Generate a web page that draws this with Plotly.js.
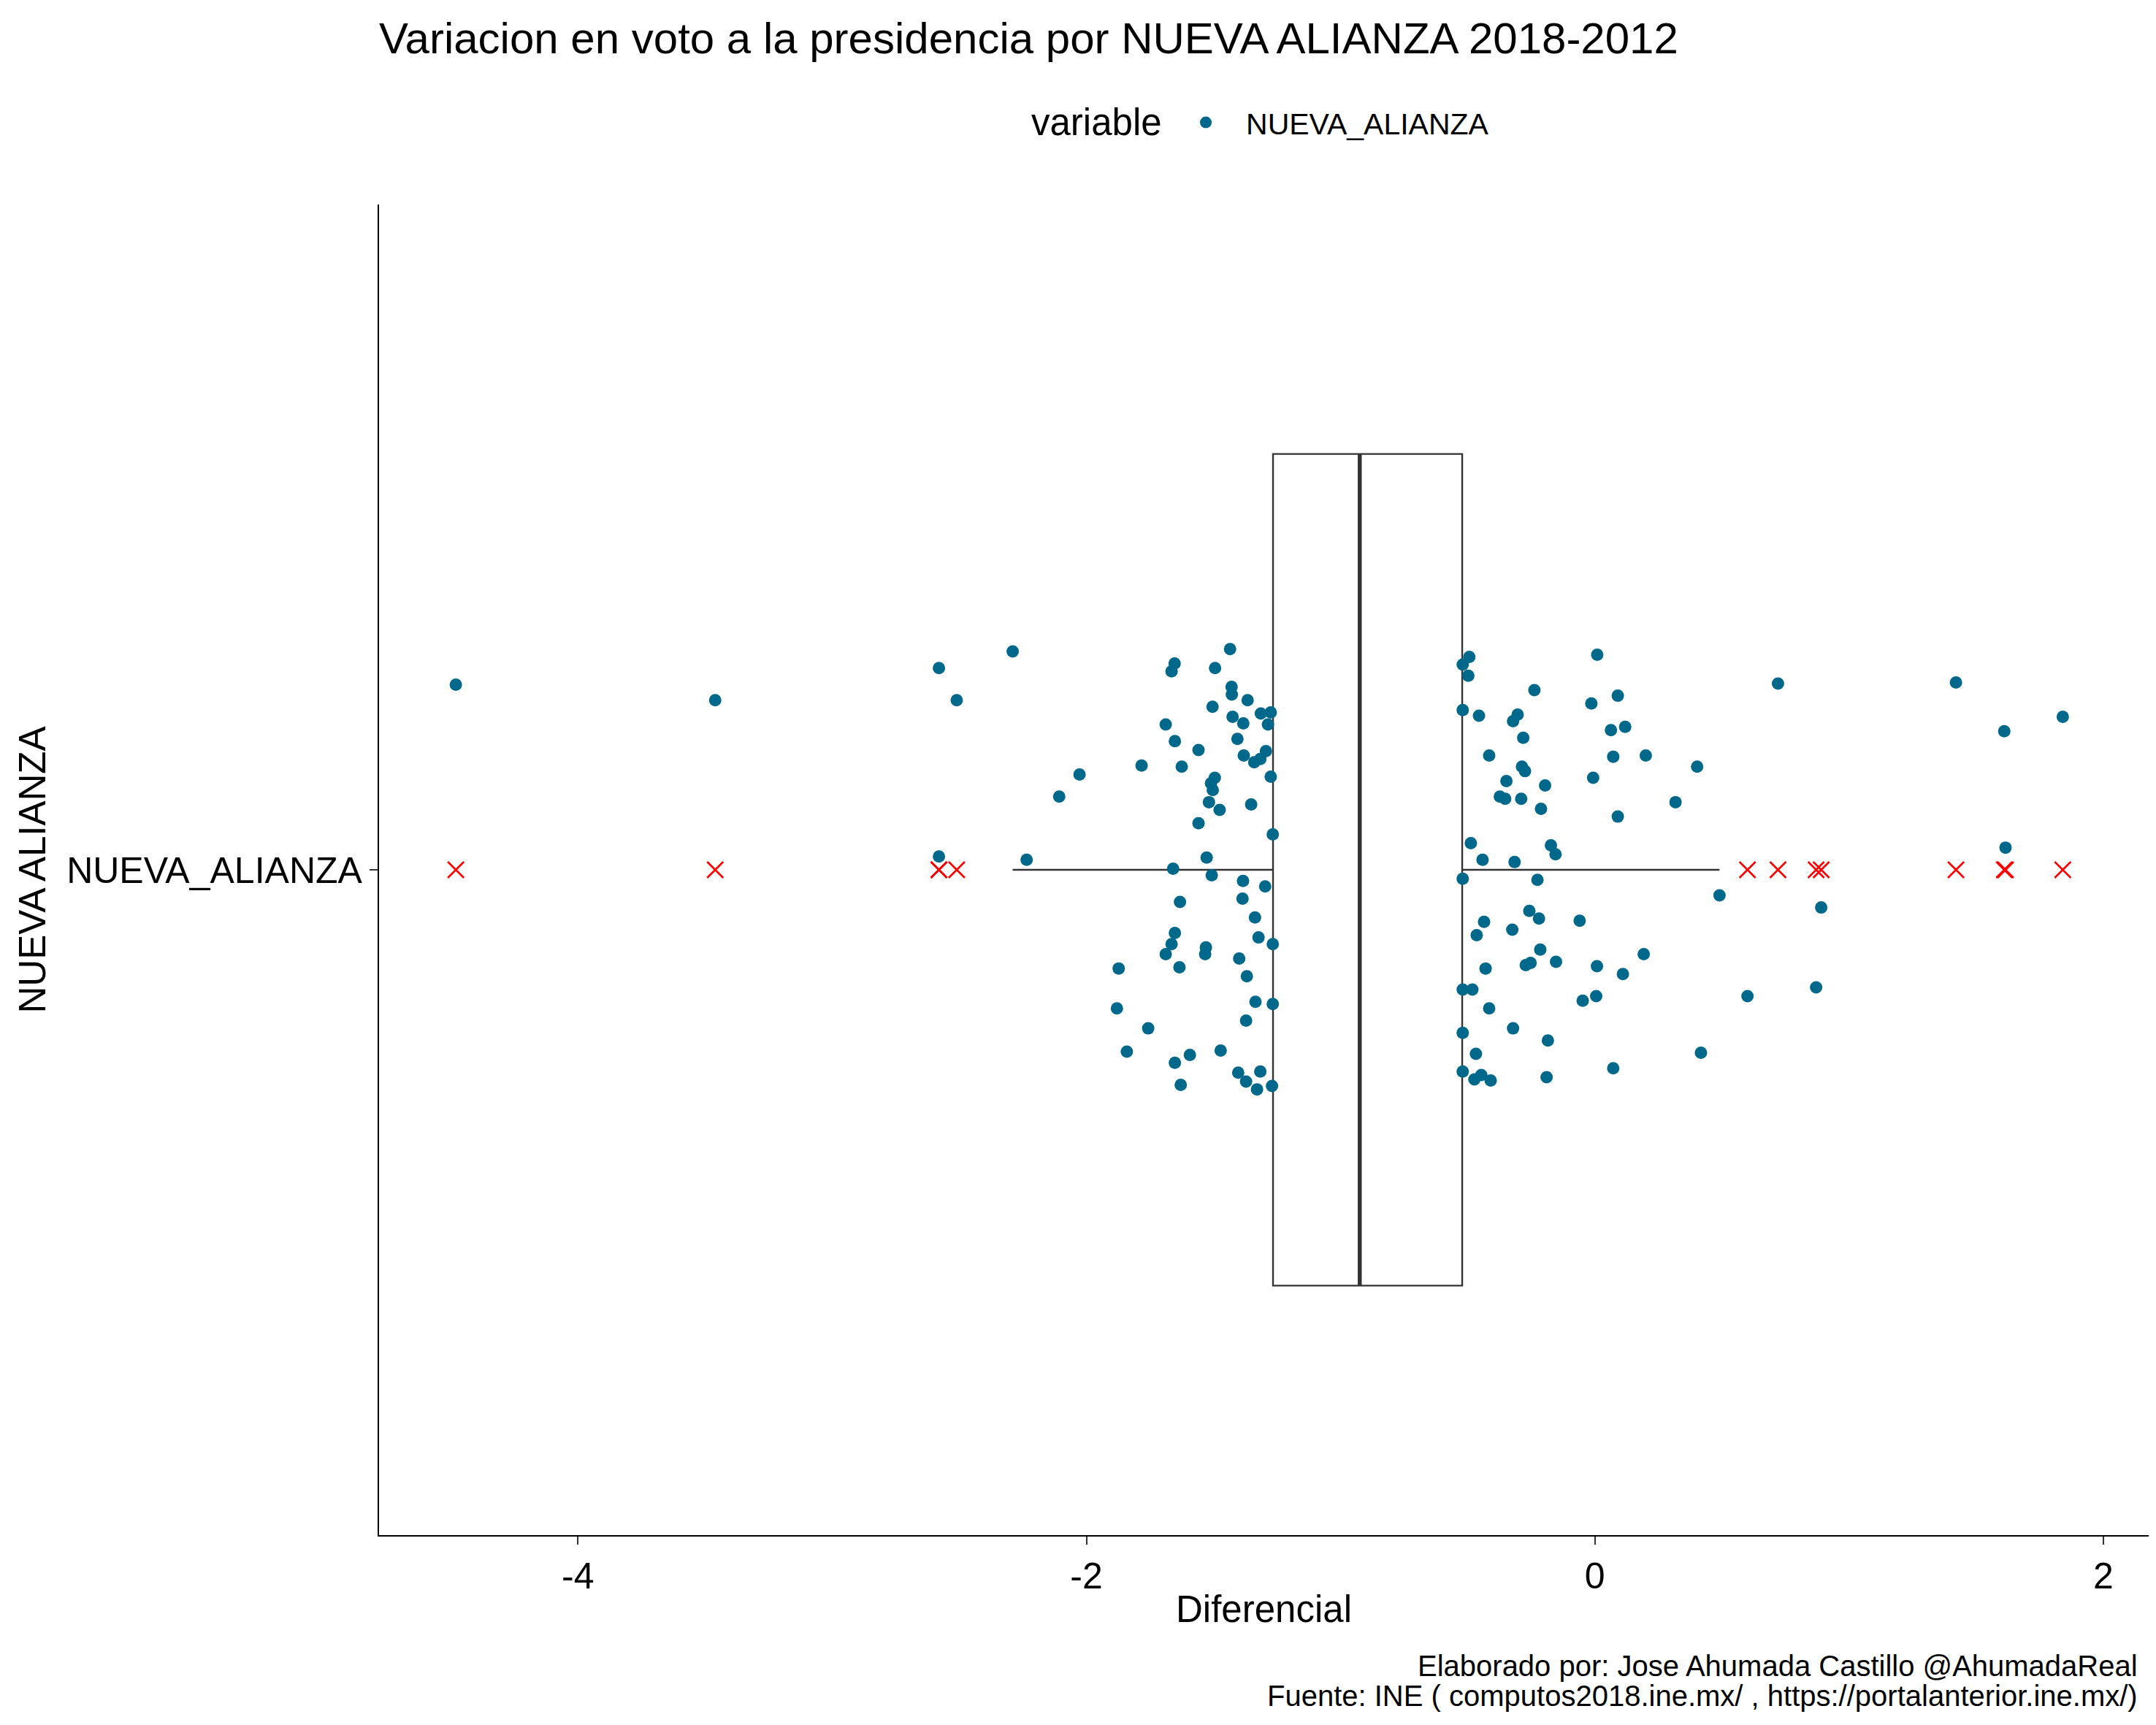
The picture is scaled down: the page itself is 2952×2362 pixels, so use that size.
<!DOCTYPE html>
<html>
<head>
<meta charset="utf-8">
<script src="https://cdn.plot.ly/plotly-3.0.1.min.js"></script>
<style>
  body { margin: 0; background: #ffffff; }
  #grafica { width: 2952px; height: 2362px; }
</style>
</head>
<body>
<div id="grafica"></div>
<script>
// Categoria del eje y (una sola)
const categorias = ["NUEVA_ALIANZA"];

// Diferencial por punto y su desplazamiento vertical (jitter)
const diferencial = [
    -4.48, -3.46, -2.58, -2.51, -2.29, -2.58, -2.235,
    -1.435, -1.653, -1.665, -1.494, -1.429, -1.428, -1.366, -1.504, -1.425, -1.383,
    -1.314, -1.286, -1.275, -1.688, -1.652, -1.559, -1.406, -1.783, -1.625, -1.381,
    -1.294, -1.316, -1.34, -1.275, -2.027, -2.107, -1.495, -1.51, -1.503, -1.518,
    -1.476, -1.352, -1.559, -1.267, -1.527, -1.659, -1.507, -1.384, -1.297, -1.386,
    -1.632, -1.337, -1.323, -1.267, -1.652, -1.665, -1.688, -1.53, -1.533, -1.399,
    -1.634, -1.873, -1.369, -1.335, -1.267, -1.88, -1.372, -1.757, -1.841, -1.593,
    -1.472, -1.652, -1.629, -1.403, -1.372, -1.316, -1.329, -1.27,
    -0.494, -0.52, -0.498, 0.009, -0.238, -0.014, 0.09, -0.52, -0.456, -0.304,
    -0.322, -0.282, 0.063, 0.119, -0.416, -0.287, -0.275, 0.072, 0.20, 0.402,
    -0.348, -0.196, -0.007, -0.374, -0.353, -0.29, -0.212, 0.317, 0.09, -0.488,
    -0.442, -0.316, -0.173, -0.155, -0.52, -0.226, 0.49, -0.258, -0.22, -0.436,
    -0.465, -0.325, -0.06, -0.215, -0.153, -0.272, -0.253, 0.008, 0.11, 0.192,
    -0.43, -0.52, -0.482, -0.416, -0.048, 0.005, -0.52, -0.322, -0.185, -0.468,
    0.417, 0.072, -0.52, -0.447, -0.474, -0.41, -0.19,
    0.60, 0.72, 0.87, 0.89, 1.42, 1.61, 1.615, 1.84
];
const jitter = [
    0.167, 0.153, 0.182, 0.153, 0.197, 0.012, 0.009,
    0.199, 0.186, 0.179, 0.182, 0.165, 0.158, 0.153, 0.147, 0.138, 0.132,
    0.141, 0.131, 0.142, 0.131, 0.116, 0.108, 0.118, 0.094, 0.093, 0.103,
    0.107, 0.100, 0.097, 0.084, 0.086, 0.066, 0.083, 0.078, 0.072, 0.061,
    0.054, 0.059, 0.042, 0.032, 0.011, 0.001, -0.005, -0.010, -0.015, -0.026,
    -0.029, -0.043, -0.061, -0.067, -0.057, -0.067, -0.076, -0.070, -0.076, -0.080,
    -0.088, -0.089, -0.096, -0.119, -0.121, -0.125, -0.136, -0.143, -0.164, -0.167,
    -0.163, -0.174, -0.194, -0.183, -0.191, -0.182, -0.198, -0.195,
    0.192, 0.185, 0.175, 0.194, 0.162, 0.150, 0.157, 0.144, 0.139, 0.140,
    0.134, 0.119, 0.126, 0.129, 0.103, 0.093, 0.089, 0.102, 0.103, 0.093,
    0.080, 0.076, 0.083, 0.066, 0.064, 0.064, 0.055, 0.061, 0.048, 0.024,
    0.009, 0.007, 0.022, 0.014, -0.008, -0.009, -0.023, -0.037, -0.044, -0.047,
    -0.059, -0.054, -0.046, -0.072, -0.083, -0.086, -0.084, -0.087, -0.094, -0.076,
    -0.089, -0.108, -0.108, -0.125, -0.118, -0.114, -0.147, -0.143, -0.154, -0.166,
    -0.165, -0.179, -0.182, -0.185, -0.189, -0.190, -0.187,
    -0.114, 0.168, -0.106, -0.034, 0.169, 0.125, 0.020, 0.138
];

// Estadisticos de la caja
const q1 = [-1.266];
const mediana = [-0.925];
const q3 = [-0.522];
const bigoteInf = [-2.29];
const bigoteSup = [0.49];

const titulo = "Variacion en voto a la presidencia por NUEVA ALIANZA 2018-2012";
const tituloLeyenda = "variable";
const pie1 = "Elaborado por: Jose Ahumada Castillo @AhumadaReal";
const pie2 = "Fuente: INE ( computos2018.ine.mx/ , https://portalanterior.ine.mx/)";

const fuente = "Liberation Sans, Arial, sans-serif";
const posicion = 1; // posicion numerica de la categoria en el eje y

// puntos con jitter
const yJitter = jitter.map(j => posicion + j);

// atipicos: fuera de los bigotes
const atipicos = diferencial.filter(v => v < bigoteInf[0] || v > bigoteSup[0]);

let data = [
    {
        type: "scatter",
        mode: "markers",
        name: categorias[0],
        x: diferencial,
        y: yJitter,
        marker: { color: "#00688B", size: 17 },
        showlegend: true,
        hoverinfo: "x"
    },
    {
        type: "box",
        orientation: "h",
        y: [posicion],
        q1: q1,
        median: mediana,
        q3: q3,
        lowerfence: bigoteInf,
        upperfence: bigoteSup,
        width: 0.75,
        whiskerwidth: 0,
        fillcolor: "#ffffff",
        line: { color: "#333333", width: 2.4 },
        boxpoints: false,
        showlegend: false,
        hoverinfo: "skip"
    },
    {
        type: "scatter",
        mode: "markers",
        x: atipicos,
        y: atipicos.map(() => posicion),
        marker: { symbol: "x-thin-open", size: 22, color: "#ff0000", line: { color: "#ff0000", width: 2.6 } },
        showlegend: false,
        hoverinfo: "x"
    }
];

let layout = {
    width: 2952,
    height: 2362,
    margin: { l: 519, r: 10, t: 280, b: 260 },
    paper_bgcolor: "#ffffff",
    plot_bgcolor: "#ffffff",
    font: { family: fuente, color: "#000000" },
    title: {
        text: titulo,
        font: { family: fuente, size: 60, color: "#000000" },
        xref: "paper",
        x: 0,
        xanchor: "left",
        yref: "container",
        y: 0.978,
        yanchor: "middle"
    },
    xaxis: {
        range: [-4.782, 2.178],
        tickvals: [-4, -2, 0, 2],
        ticktext: ["-4", "-2", "0", "2"],
        showgrid: false,
        zeroline: false,
        showline: true,
        linecolor: "#000000",
        linewidth: 2.2,
        ticks: "outside",
        ticklen: 11,
        tickwidth: 2.2,
        tickcolor: "#333333",
        tickfont: { family: fuente, size: 50, color: "#000000" },
        title: { text: "Diferencial", font: { family: fuente, size: 51, color: "#000000" }, standoff: 0 }
    },
    yaxis: {
        range: [0.4, 1.6],
        tickvals: [posicion],
        ticktext: categorias,
        showgrid: false,
        zeroline: false,
        showline: true,
        linecolor: "#000000",
        linewidth: 2.2,
        ticks: "outside",
        ticklen: 11,
        tickwidth: 2.2,
        tickcolor: "#333333",
        tickfont: { family: fuente, size: 50, color: "#000000" },
        title: { text: "NUEVA ALIANZA", font: { family: fuente, size: 51, color: "#000000" }, standoff: 12 }
    },
    legend: {
        orientation: "h",
        x: 0.4445,
        xanchor: "left",
        y: 1.0615,
        yanchor: "middle",
        font: { family: fuente, size: 41, color: "#000000" },
        itemsizing: "trace",
        itemwidth: 100
    },
    shapes: [{
        type: "line",
        xref: "x",
        yref: "y",
        x0: mediana[0],
        x1: mediana[0],
        y0: posicion - 0.375,
        y1: posicion + 0.375,
        line: { color: "#333333", width: 5.5 },
        layer: "above"
    }],
    annotations: [
        {
            text: tituloLeyenda, xref: "paper", yref: "paper", x: 0.4433, y: 1.0615,
            xanchor: "right", yanchor: "middle", showarrow: false,
            font: { family: fuente, size: 51, color: "#000000" }
        },
        {
            text: pie1, xref: "paper", yref: "paper", x: 0.9946, y: -0.098,
            xanchor: "right", yanchor: "middle", showarrow: false,
            font: { family: fuente, size: 40, color: "#000000" }
        },
        {
            text: pie2, xref: "paper", yref: "paper", x: 0.9946, y: -0.121,
            xanchor: "right", yanchor: "middle", showarrow: false,
            font: { family: fuente, size: 40, color: "#000000" }
        }
    ]
};

Plotly.newPlot("grafica", data, layout, { displayModeBar: false });
</script>
</body>
</html>
